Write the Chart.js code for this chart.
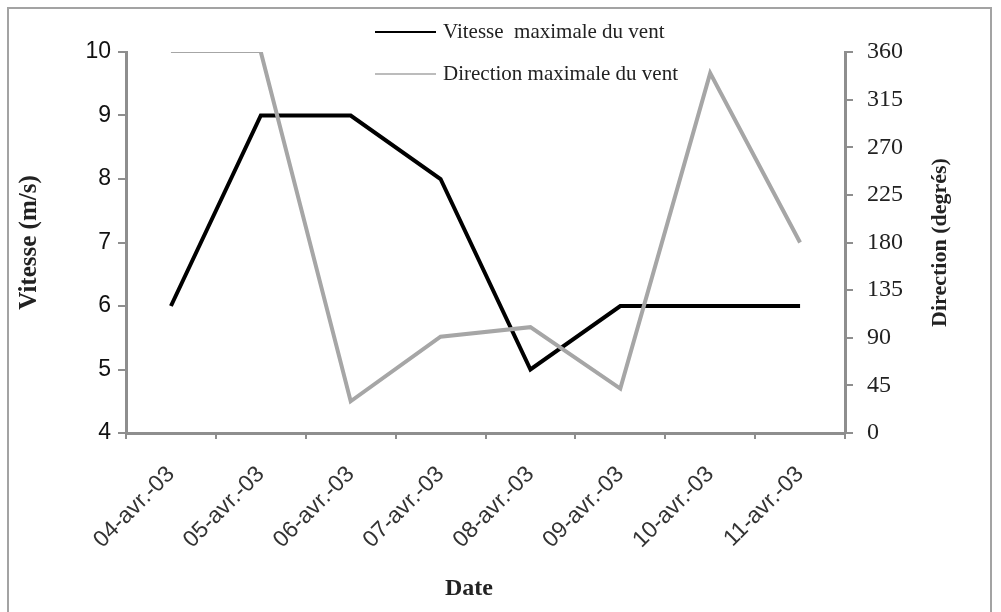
<!DOCTYPE html>
<html>
<head>
<meta charset="utf-8">
<script src="https://cdn.jsdelivr.net/npm/chart.js@4"></script>
<style>
  body { margin: 0; background: #fff; }
  #frame { position: absolute; left: 7px; top: 7px; width: 981px; height: 640px; border: 2px solid #a3a3a3; }
  #wrap { position: absolute; left: 0; top: 0; width: 1001px; height: 612px; }
</style>
</head>
<body>
<div id="frame"></div>
<div id="wrap"><canvas id="myChart"></canvas></div>
<script>
const labels = ['04-avr.-03', '05-avr.-03', '06-avr.-03', '07-avr.-03', '08-avr.-03', '09-avr.-03', '10-avr.-03', '11-avr.-03'];
const vitesse = [6, 9, 9, 8, 5, 6, 6, 6];
const direction = [360, 360, 30, 91, 100, 42, 340, 180];
const vitesseTicks = [4, 5, 6, 7, 8, 9, 10];
const directionTicks = [0, 45, 90, 135, 180, 225, 270, 315, 360];

const axisGray = '#8e8e8e';
const serif = "'Liberation Serif', serif";
const sans = "'Liberation Sans', sans-serif";

// legend, right axis title and x title drawn by hand (Excel style, legend overlaps the plot)
const extras = {
  id: 'extras',
  afterDraw(chart) {
    const ctx = chart.ctx;
    ctx.save();
    const rows = [32, 74];
    chart.data.datasets.forEach((ds, i) => {
      ctx.strokeStyle = ds.borderColor;
      ctx.lineWidth = i === 0 ? 2 : 1.5;
      ctx.beginPath();
      ctx.moveTo(375, rows[i]);
      ctx.lineTo(436, rows[i]);
      ctx.stroke();
      ctx.fillStyle = '#222';
      ctx.font = '21px ' + serif;
      ctx.textBaseline = 'middle';
      ctx.fillText(ds.label, 443, rows[i]);
    });
    ctx.fillStyle = '#222';
    ctx.font = 'bold 24px ' + serif;
    ctx.textAlign = 'center';
    ctx.textBaseline = 'middle';
    ctx.fillText('Date', 469, 589);
    const area = chart.chartArea;
    ctx.translate(940, (area.top + area.bottom) / 2);
    ctx.rotate(-Math.PI / 2);
    ctx.font = 'bold 22px ' + serif;
    ctx.fillText('Direction (degrés)', 0, 0);
    ctx.restore();
  }
};

const data = {
  labels: labels,
  datasets: [{
    label: 'Vitesse  maximale du vent',
    data: vitesse,
    yAxisID: 'y',
    borderColor: '#000',
    borderWidth: 4,
    pointRadius: 0,
    order: 1
  }, {
    label: 'Direction maximale du vent',
    data: direction,
    yAxisID: 'y1',
    borderColor: '#a6a6a6',
    borderWidth: 4,
    pointRadius: 0,
    order: 0,
    segment: {
      borderWidth: c => c.p0DataIndex === 0 ? 2 : 4
    }
  }]
};

const config = {
  type: 'line',
  data,
  plugins: [extras],
  options: {
    responsive: true,
    maintainAspectRatio: false,
    animation: false,
    layout: { padding: { top: 52, left: 0, right: 0, bottom: 0 } },
    elements: { line: { tension: 0, borderJoinStyle: 'miter' } },
    plugins: {
      legend: { display: false },
      tooltip: { enabled: false }
    },
    scales: {
      x: {
        offset: true,
        grid: { offset: true, drawOnChartArea: false, color: axisGray, lineWidth: 2, tickLength: 6 },
        border: { color: axisGray, width: 3 },
        ticks: { font: { size: 23, family: sans }, color: '#333', minRotation: 45, maxRotation: 45, padding: 22 },
        afterFit: s => { s.height = 179; }
      },
      y: {
        position: 'left',
        min: 4,
        max: 10,
        afterBuildTicks: s => { s.ticks = vitesseTicks.map(v => ({ value: v })); },
        grid: { drawOnChartArea: false, color: axisGray, lineWidth: 2, tickLength: 8 },
        border: { color: axisGray, width: 3 },
        ticks: { font: { size: 23, family: sans }, color: '#111', padding: 7 },
        title: { display: true, text: 'Vitesse (m/s)', font: { size: 25, weight: 'bold', family: serif }, color: '#222', padding: { top: 15, bottom: 0 } },
        afterFit: s => { s.width = 126; }
      },
      y1: {
        position: 'right',
        min: 0,
        max: 360,
        afterBuildTicks: s => { s.ticks = directionTicks.map(v => ({ value: v })); },
        grid: { drawOnChartArea: false, color: axisGray, lineWidth: 2, tickLength: 8 },
        border: { color: axisGray, width: 3 },
        ticks: { font: { size: 24, family: serif }, color: '#222', padding: 14 },
        afterFit: s => { s.width = 156; }
      }
    }
  }
};

var myChart = new Chart(document.getElementById('myChart'), config);
</script>
</body>
</html>
